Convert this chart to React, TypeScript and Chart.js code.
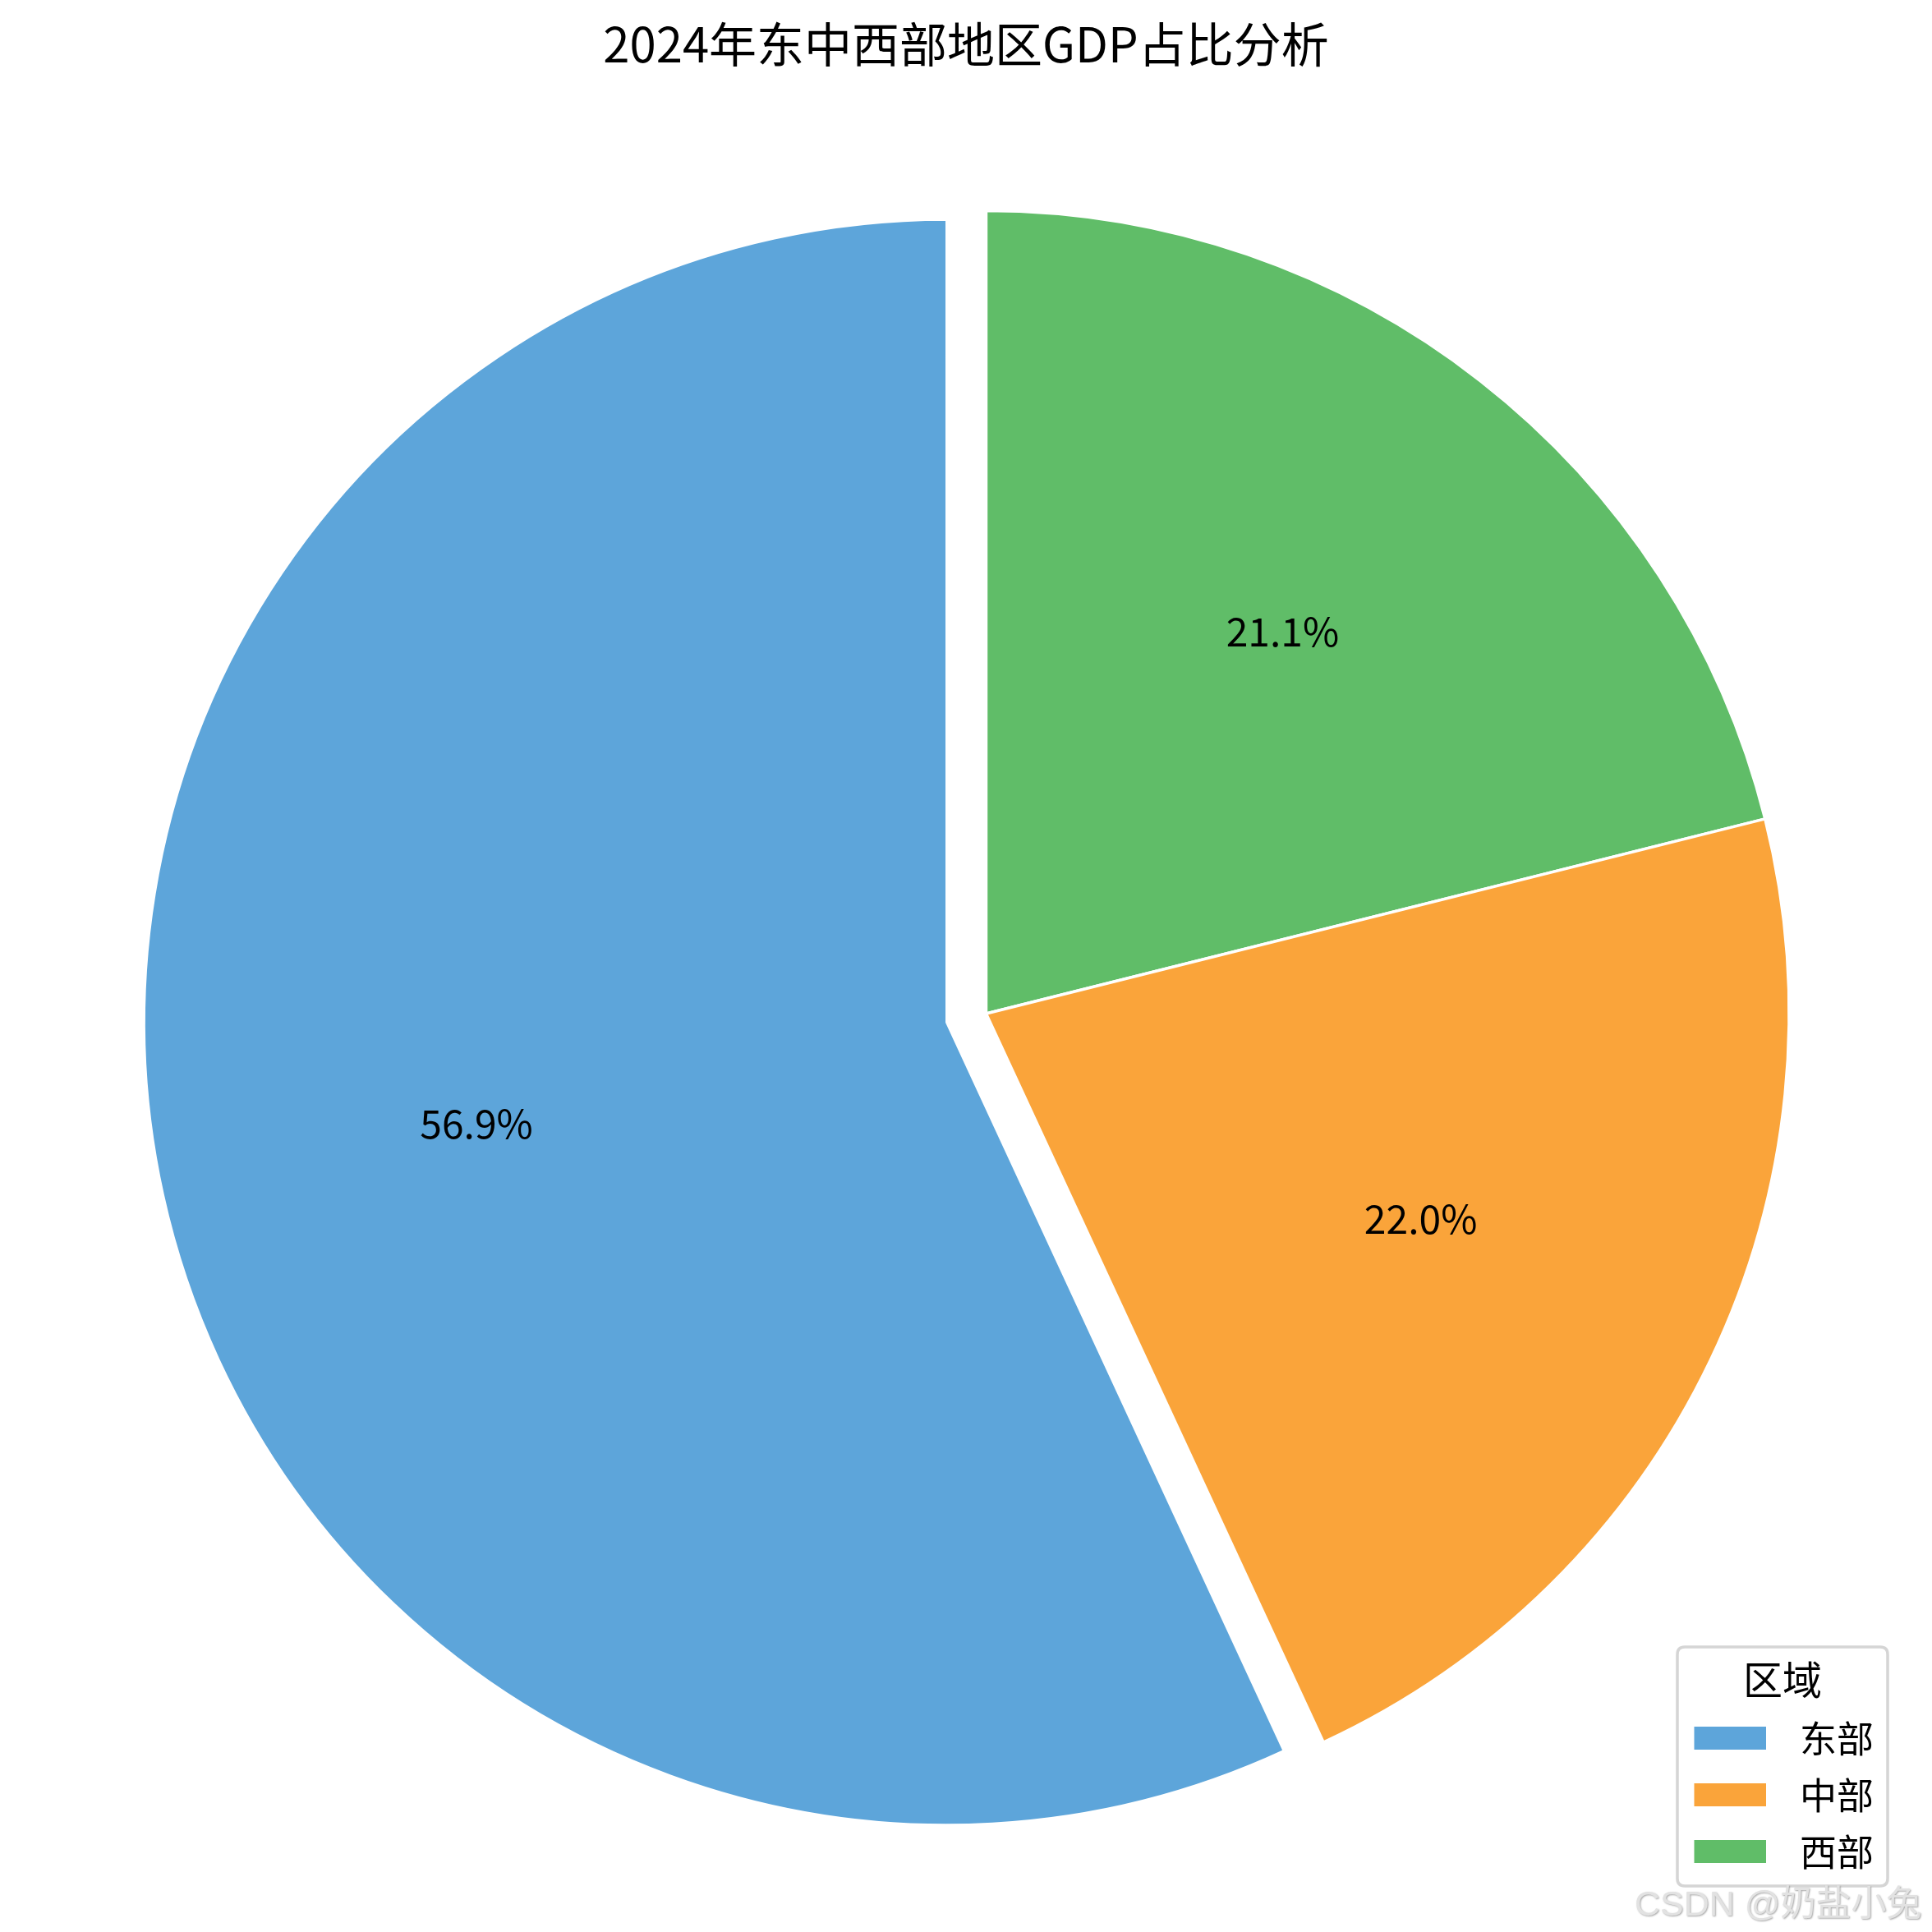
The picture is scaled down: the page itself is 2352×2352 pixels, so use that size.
import React, { useEffect, useRef } from 'react';
import { Chart, registerables } from 'chart.js';

Chart.register(...registerables);

const TITLE = '2024年东中西部地区GDP占比分析';
const LEGEND_TITLE = '区域';
const WATERMARK = 'CSDN @奶盐小兔';
const categories = ['东部', '中部', '西部'];
const shares = [56.9, 22.0, 21.1];
const colors = ['#5DA5DA', '#FAA43A', '#60BD68'];
const explode = [0.05, 0, 0];

// matplotlib draws counter-clockwise from the top; Chart.js clockwise, so feed reversed order
const order = [2, 1, 0];

const FONT = '"Noto Sans CJK SC", "Noto Sans", sans-serif';

const piePlugin = {
  id: 'pieExtras',
  afterDatasetUpdate(chart: any) {
    const meta = chart.getDatasetMeta(0);
    meta.data.forEach((el: any, i: number) => {
      const ex = explode[order[i]];
      if (ex) {
        const mid = (el.startAngle + el.endAngle) / 2;
        el.x += Math.cos(mid) * ex * el.outerRadius;
        el.y += Math.sin(mid) * ex * el.outerRadius;
      }
    });
  },
  afterDatasetsDraw(chart: any) {
    const ctx = chart.ctx;
    const meta = chart.getDatasetMeta(0);
    ctx.save();
    ctx.fillStyle = '#000';
    ctx.font = `48px ${FONT}`;
    ctx.textAlign = 'center';
    ctx.textBaseline = 'middle';
    meta.data.forEach((el: any, i: number) => {
      const mid = (el.startAngle + el.endAngle) / 2;
      const r = el.outerRadius * 0.6;
      const x = el.x + Math.cos(mid) * r;
      const y = el.y + Math.sin(mid) * r;
      ctx.fillText(shares[order[i]].toFixed(1) + '%', x, y - 3);
    });
    ctx.restore();
  },
  afterDraw(chart: any) {
    const ctx = chart.ctx;
    const W = chart.width;
    ctx.save();
    // title
    ctx.fillStyle = '#000';
    ctx.font = `58px ${FONT}`;
    ctx.textAlign = 'center';
    ctx.textBaseline = 'alphabetic';
    ctx.fillText(TITLE, W / 2, 76);

    // legend box
    const bx = 2042, by = 2005, bw = 256, bh = 291, rad = 9;
    ctx.beginPath();
    ctx.moveTo(bx + rad, by);
    ctx.lineTo(bx + bw - rad, by);
    ctx.quadraticCurveTo(bx + bw, by, bx + bw, by + rad);
    ctx.lineTo(bx + bw, by + bh - rad);
    ctx.quadraticCurveTo(bx + bw, by + bh, bx + bw - rad, by + bh);
    ctx.lineTo(bx + rad, by + bh);
    ctx.quadraticCurveTo(bx, by + bh, bx, by + bh - rad);
    ctx.lineTo(bx, by + rad);
    ctx.quadraticCurveTo(bx, by, bx + rad, by);
    ctx.closePath();
    ctx.fillStyle = 'rgba(255,255,255,0.8)';
    ctx.fill();
    ctx.strokeStyle = '#d5d5d5';
    ctx.lineWidth = 3.5;
    ctx.stroke();

    ctx.fillStyle = '#000';
    ctx.font = `48px ${FONT}`;
    ctx.textAlign = 'center';
    ctx.textBaseline = 'middle';
    ctx.fillText(LEGEND_TITLE, bx + bw / 2, 2045);

    ctx.font = `45px ${FONT}`;
    ctx.textAlign = 'left';
    categories.forEach((c, i) => {
      const cy = 2116 + i * 69;
      ctx.fillStyle = colors[i];
      ctx.fillRect(2062.5, cy - 14, 87.5, 28);
      ctx.fillStyle = '#000';
      ctx.fillText(c, 2191, cy + 1);
    });

    // watermark
    ctx.font = `43px "Liberation Sans", ${FONT}`;
    ctx.textAlign = 'left';
    ctx.textBaseline = 'alphabetic';
    ctx.shadowColor = 'rgba(0,0,0,0.35)';
    ctx.shadowOffsetX = 1;
    ctx.shadowOffsetY = 1;
    ctx.shadowBlur = 2;
    ctx.fillStyle = '#e2e2e2';
    ctx.fillText(WATERMARK, 1990, 2332);
    ctx.restore();
  },
};

export default function App() {
  const ref = useRef<HTMLCanvasElement | null>(null);
  useEffect(() => {
    if (!ref.current) return;
    const chart = new Chart(ref.current, {
      type: 'pie',
      data: {
        labels: order.map((i) => categories[i]),
        datasets: [
          {
            data: order.map((i) => shares[i]),
            backgroundColor: order.map((i) => colors[i]),
            borderColor: '#ffffff',
            borderWidth: 3.5,
          },
        ],
      },
      options: {
        animation: false,
        responsive: false,
        devicePixelRatio: 1,
        events: [],
        radius: 977.5,
        layout: { padding: { left: 49, top: 116, right: 0, bottom: 0 } },
        plugins: {
          legend: { display: false },
          tooltip: { enabled: false },
          title: { display: false },
        },
      } as any,
      plugins: [piePlugin],
    });
    return () => chart.destroy();
  }, []);
  return (
    <div style={{ position: 'absolute', left: 0, top: 0, width: 2352, height: 2352, background: '#fff' }}>
      <canvas ref={ref} width={2352} height={2352} style={{ width: 2352, height: 2352 }} />
    </div>
  );
}
